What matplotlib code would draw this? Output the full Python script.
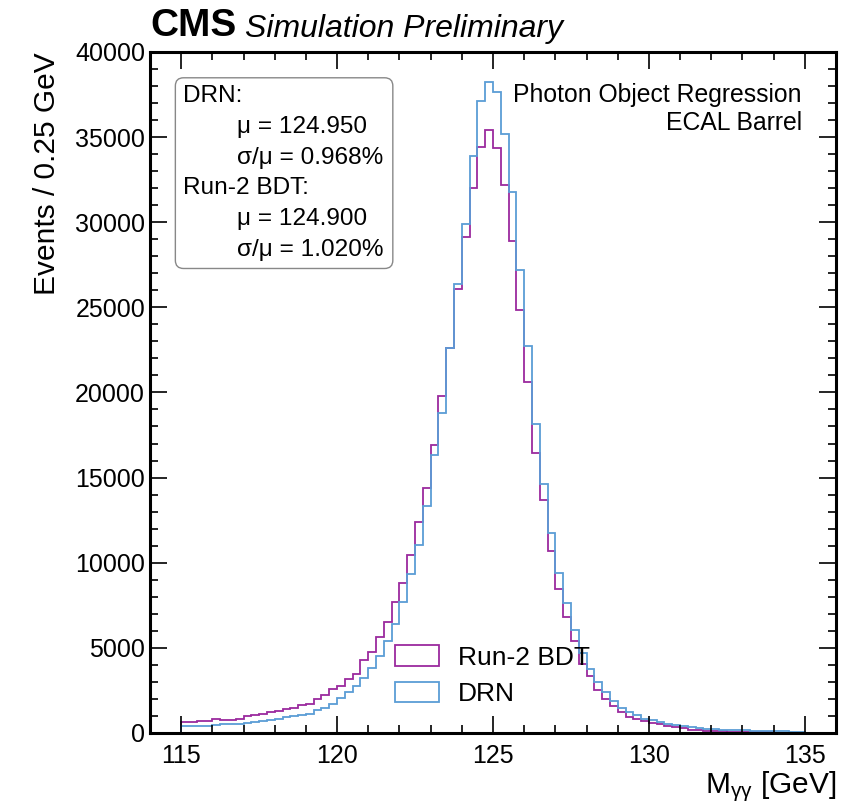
import numpy as np
import matplotlib
matplotlib.use("Agg")
import matplotlib.pyplot as plt
from matplotlib.patches import FancyBboxPatch, Patch
from matplotlib.ticker import MultipleLocator

plt.rcParams['font.family'] = ['Liberation Sans', 'DejaVu Sans']
plt.rcParams['mathtext.fontset'] = 'custom'
plt.rcParams['mathtext.rm'] = 'Liberation Sans'
plt.rcParams['mathtext.it'] = 'Liberation Sans:italic'
plt.rcParams['mathtext.default'] = 'regular'

# ---------------- data ----------------
bin_edges = np.linspace(115.0, 135.0, 81)  # 0.25 GeV bins

bdt_counts = [
    627, 627, 706, 706, 804, 764, 764, 823, 980, 1058,
    1137, 1235, 1294, 1392, 1490, 1627, 1725, 2000, 2254, 2587,
    2783, 3175, 3489, 4273, 4763, 5645, 6500, 7703, 8782, 10447,
    12410, 14410, 16900, 19800, 22605, 26100, 29150, 32000, 34410, 35390,
    34350, 32195, 28920, 24860, 20625, 16470, 13665, 10680, 8470, 6820,
    5430, 4077, 3371, 2548, 2000, 1568, 1254, 941, 823, 686,
    588, 510, 392, 333, 274, 196, 157, 137, 118, 98,
    78, 78, 59, 40, 40, 40, 20, 20, 20, 20,
]

drn_counts = [
    392, 392, 392, 392, 450, 510, 510, 530, 590, 647,
    706, 784, 843, 921, 1000, 1078, 1137, 1333, 1470, 1725,
    2058, 2391, 2783, 3234, 3822, 4547, 5430, 6400, 7700, 9312,
    11035, 13330, 16350, 18820, 22605, 26370, 29900, 33860, 37095, 38235,
    37650, 35195, 31765, 27210, 22740, 18135, 14605, 11765, 9370, 7605,
    6076, 4704, 3763, 2979, 2391, 1862, 1470, 1215, 1058, 843,
    745, 647, 549, 470, 412, 353, 294, 255, 235, 196,
    196, 176, 157, 137, 137, 118, 118, 98, 78, 59,
]

series_labels = ["Run-2 BDT", "DRN"]
stat_lines = ["DRN:", "\u03bc = 124.950", "\u03c3/\u03bc = 0.968%",
              "Run-2 BDT:", "\u03bc = 124.900", "\u03c3/\u03bc = 1.020%"]
region_lines = ["Photon Object Regression", "ECAL Barrel"]

# ---------------- figure ----------------
fig = plt.figure(figsize=(8.57, 8.06), dpi=100)
ax = fig.add_axes([0.175, 0.0906, 0.8005, 0.845])

c_bdt = "#9b2a9e"
c_drn = "#5b9dd6"
ax.stairs(bdt_counts, bin_edges, color=c_bdt, lw=1.3)
ax.stairs(drn_counts, bin_edges, color=c_drn, lw=1.3)

ax.set_xlim(114, 136)
ax.set_ylim(0, 40000)
ax.xaxis.set_major_locator(MultipleLocator(5))
ax.xaxis.set_minor_locator(MultipleLocator(1))
ax.yaxis.set_major_locator(MultipleLocator(5000))
ax.yaxis.set_minor_locator(MultipleLocator(1000))
ax.tick_params(which='both', direction='in', top=True, right=True, labelsize=18, width=1.2)
ax.tick_params(which='major', length=12)
ax.tick_params(which='minor', length=6)
ax.tick_params(axis='x', pad=8)
for s in ax.spines.values():
    s.set_linewidth(2.2)

ax.set_ylabel("Events / 0.25 GeV", fontsize=21.5, loc='top', labelpad=10)
ax.set_xlabel(r"M$_{\gamma\gamma}$ [GeV]", fontsize=21.5, loc='right', labelpad=1)

# CMS label
ax.text(0.0, 1.012, "CMS", transform=ax.transAxes, fontsize=28, fontweight='bold',
        ha='left', va='bottom')
ax.text(0.138, 1.012, "Simulation Preliminary", transform=ax.transAxes, fontsize=23,
        fontstyle='italic', ha='left', va='bottom')

# stat box
box = FancyBboxPatch((0.037, 0.682), 0.317, 0.28, transform=ax.transAxes,
                     boxstyle="round,pad=0,rounding_size=0.012",
                     fc='white', ec='#888888', lw=1.0, zorder=5)
ax.add_patch(box)
ys = [0.935, 0.890, 0.844, 0.800, 0.755, 0.709]
xs = [0.048, 0.127, 0.127, 0.048, 0.127, 0.127]
for t, x, y in zip(stat_lines, xs, ys):
    ax.text(x, y, t, transform=ax.transAxes, fontsize=17.6, ha='left', va='center', zorder=6)

# region text
ax.text(0.950, 0.937, region_lines[0], transform=ax.transAxes, fontsize=17.8,
        ha='right', va='center')
ax.text(0.950, 0.896, region_lines[1], transform=ax.transAxes, fontsize=17.8,
        ha='right', va='center')

handles = [Patch(facecolor='none', edgecolor=c_bdt, lw=1.3),
           Patch(facecolor='none', edgecolor=c_drn, lw=1.3)]
leg = ax.legend(handles, series_labels, loc='lower left', bbox_to_anchor=(0.322, 0.005),
                fontsize=19, frameon=False, handlelength=1.7, handleheight=0.8,
                handletextpad=0.7, labelspacing=0.45)

fig.savefig("out.png", dpi=100)
